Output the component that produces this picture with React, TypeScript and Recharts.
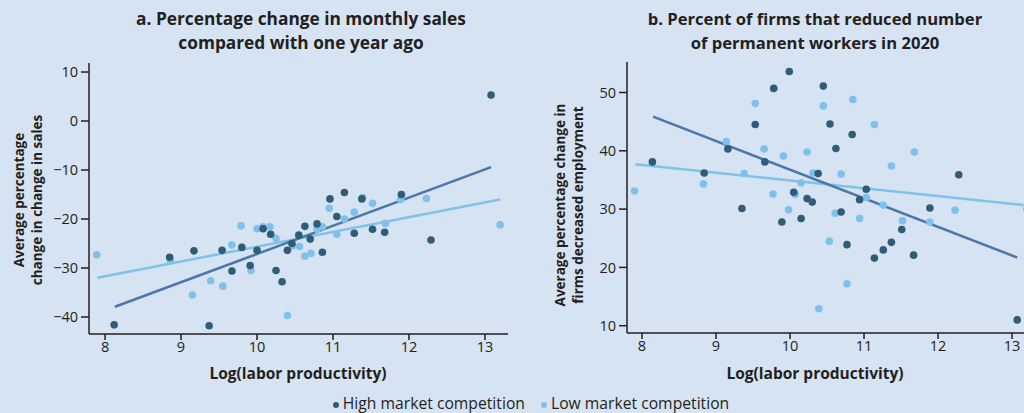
import React from 'react';
import { ScatterChart, Scatter, XAxis, YAxis, ReferenceLine } from 'recharts';

// Panel a: percentage change in monthly sales
const salesHigh = [
  [8.12, -41.6], [8.85, -27.8], [9.17, -26.5], [9.37, -41.8], [9.54, -26.4], [9.67, -30.6],
  [9.8, -25.8], [9.91, -29.5], [10.0, -26.4], [10.08, -22.0], [10.18, -23.1], [10.25, -30.5],
  [10.33, -32.8], [10.4, -26.4], [10.46, -25.0], [10.55, -23.3], [10.63, -21.5], [10.7, -24.1],
  [10.79, -21.0], [10.86, -26.8], [10.96, -15.9], [11.05, -19.5], [11.15, -14.6], [11.28, -22.9],
  [11.38, -15.9], [11.52, -22.1], [11.68, -22.7], [11.9, -15.0], [12.29, -24.3], [13.08, 5.3],
];
const salesLow = [
  [7.89, -27.3], [8.86, -28.5], [9.15, -35.5], [9.39, -32.6], [9.55, -33.7], [9.67, -25.3],
  [9.79, -21.4], [9.92, -30.5], [10.0, -22.0], [10.08, -21.6], [10.17, -21.6], [10.25, -24.0],
  [10.4, -39.7], [10.47, -25.5], [10.56, -25.6], [10.63, -27.6], [10.71, -27.0], [10.79, -22.1],
  [10.86, -21.6], [10.95, -17.8], [11.05, -23.1], [11.15, -20.0], [11.28, -18.6], [11.39, -15.6],
  [11.52, -16.8], [11.69, -20.9], [11.89, -16.0], [12.23, -15.8], [13.2, -21.2],
];
const salesTrendHigh = [[8.13, -37.9], [13.08, -9.4]];
const salesTrendLow = [[7.9, -32.0], [13.2, -16.0]];
const salesYTicks = [-40, -30, -20, -10, 0, 10];

// Panel b: percent of firms that reduced permanent workers
const firmsHigh = [
  [8.14, 38.1], [8.84, 36.2], [9.16, 40.3], [9.35, 30.1], [9.53, 44.5], [9.66, 38.1],
  [9.78, 50.7], [9.89, 27.8], [9.99, 53.6], [10.05, 32.9], [10.15, 28.4], [10.23, 31.8],
  [10.3, 31.2], [10.38, 36.1], [10.45, 51.1], [10.54, 44.6], [10.62, 40.4], [10.69, 29.5],
  [10.77, 23.9], [10.84, 42.8], [10.94, 31.6], [11.03, 33.4], [11.14, 21.6], [11.26, 23.0],
  [11.37, 24.3], [11.51, 26.5], [11.67, 22.1], [11.89, 30.2], [12.28, 35.9], [13.07, 11.0],
];
const firmsLow = [
  [7.9, 33.1], [8.83, 34.3], [9.14, 41.6], [9.38, 36.1], [9.53, 48.1], [9.65, 40.3],
  [9.77, 32.6], [9.91, 39.1], [9.98, 29.9], [10.07, 32.5], [10.15, 34.5], [10.23, 39.8],
  [10.31, 36.2], [10.39, 12.9], [10.45, 47.7], [10.53, 24.5], [10.61, 29.3], [10.69, 36.0],
  [10.77, 17.2], [10.85, 48.8], [10.94, 28.4], [11.03, 32.0], [11.14, 44.5], [11.26, 30.7],
  [11.37, 37.4], [11.52, 28.0], [11.68, 39.8], [11.89, 27.8], [12.23, 29.8], [13.2, 30.0],
];
const firmsTrendHigh = [[8.15, 45.85], [13.07, 21.7]];
const firmsTrendLow = [[7.91, 37.7], [13.16, 30.7]];
const firmsYTicks = [10, 20, 30, 40, 50];

const xTicks = [8, 9, 10, 11, 12, 13];

const seriesNames = ['High market competition', 'Low market competition'];
const titleA = ['a. Percentage change in monthly sales', 'compared with one year ago'];
const titleB = ['b. Percent of firms that reduced number', 'of permanent workers in 2020'];
const yLabelA = ['Average percentage', 'change in change in sales'];
const yLabelB = ['Average percentage change in', 'firms decreased employment'];
const xLabel = 'Log(labor productivity)';

const BG = '#d6e3f2';
const INK = '#231f20';
const DARK_DOT = '#2f5d78';
const LIGHT_DOT = '#7fc1ea';
const DARK_LINE = '#4a77a8';
const LIGHT_LINE = '#80c2ea';
const FONT = '"Open Sans", "Noto Sans", sans-serif';

const toPts = (arr: number[][]) => arr.map(([x, y]) => ({ x, y }));
const fmt = (v: number) => String(v).replace('-', '\u2212');

const dot = (color: string) => (props: any) => (
  <circle cx={props.cx} cy={props.cy} r={3.8} fill={color} />
);

type PanelProps = {
  high: number[][];
  low: number[][];
  tHigh: number[][];
  tLow: number[][];
  xDomain: [number, number];
  yDomain: [number, number];
  yTicks: number[];
  margin: { top: number; right: number; bottom: number; left: number };
  width: number;
};

function Panel({ high, low, tHigh, tLow, xDomain, yDomain, yTicks, margin, width }: PanelProps) {
  const tickStyle = { fontSize: 14.5, fill: INK, fontFamily: FONT };
  return (
    <ScatterChart width={width} height={413} margin={margin}>
      <XAxis
        type="number"
        dataKey="x"
        domain={xDomain}
        ticks={xTicks}
        allowDataOverflow
        height={30}
        tick={tickStyle}
        tickSize={6}
        tickMargin={2}
        axisLine={{ stroke: INK, strokeWidth: 1.5 }}
        tickLine={{ stroke: INK, strokeWidth: 1.5 }}
      />
      <YAxis
        type="number"
        dataKey="y"
        domain={yDomain}
        ticks={yTicks}
        tickFormatter={fmt}
        allowDataOverflow
        width={40}
        tick={tickStyle}
        tickSize={8}
        tickMargin={3}
        axisLine={{ stroke: INK, strokeWidth: 1.5 }}
        tickLine={{ stroke: INK, strokeWidth: 1.5 }}
      />
      <Scatter data={toPts(low)} fill={LIGHT_DOT} shape={dot(LIGHT_DOT)} isAnimationActive={false} />
      <Scatter data={toPts(high)} fill={DARK_DOT} shape={dot(DARK_DOT)} isAnimationActive={false} />
      <ReferenceLine
        segment={toPts(tLow) as any}
        stroke={LIGHT_LINE}
        strokeWidth={2.5}
        ifOverflow="hidden"
      />
      <ReferenceLine
        segment={toPts(tHigh) as any}
        stroke={DARK_LINE}
        strokeWidth={2.5}
        ifOverflow="hidden"
      />
    </ScatterChart>
  );
}

const abs = (l: number, t: number, extra: React.CSSProperties = {}): React.CSSProperties => ({
  position: 'absolute',
  left: l,
  top: t,
  ...extra,
});

export default function App() {
  const titleStyle: React.CSSProperties = {
    fontFamily: FONT,
    fontWeight: 700,
    color: INK,
    textAlign: 'center',
    lineHeight: '24px',
    whiteSpace: 'nowrap',
  };
  const yLabStyle: React.CSSProperties = {
    fontFamily: FONT,
    fontWeight: 700,
    fontSize: 13.5,
    color: INK,
    textAlign: 'center',
    lineHeight: '18px',
    whiteSpace: 'nowrap',
    width: 300,
    transform: 'rotate(-90deg)',
    transformOrigin: 'center center',
  };
  const xLabStyle: React.CSSProperties = {
    fontFamily: FONT,
    fontWeight: 700,
    fontSize: 15.5,
    color: INK,
    textAlign: 'center',
    whiteSpace: 'nowrap',
    width: 300,
  };
  return (
    <div
      style={{
        position: 'fixed',
        left: 0,
        top: 0,
        width: 1024,
        height: 413,
        overflow: 'hidden',
        background: BG,
      }}
    >
      <div style={abs(0, 0)}>
        <Panel
          high={salesHigh}
          low={salesLow}
          tHigh={salesTrendHigh}
          tLow={salesTrendLow}
          xDomain={[7.789, 13.303]}
          yDomain={[-43.47, 11.84]}
          yTicks={salesYTicks}
          width={520}
          margin={{ top: 63, right: 12, bottom: 49, left: 49 }}
        />
      </div>
      <div style={abs(520, 0)}>
        <Panel
          high={firmsHigh}
          low={firmsLow}
          tHigh={firmsTrendHigh}
          tLow={firmsTrendLow}
          xDomain={[7.797, 13.378]}
          yDomain={[8.75, 55.23]}
          yTicks={firmsYTicks}
          width={520}
          margin={{ top: 62, right: 0, bottom: 50, left: 67 }}
        />
      </div>

      <div style={abs(101, 7, { ...titleStyle, fontSize: 17.3, width: 400 })}>
        {titleA.map((t) => (
          <div key={t}>{t}</div>
        ))}
      </div>
      <div style={abs(615, 7, { ...titleStyle, fontSize: 16.6, width: 400 })}>
        {titleB.map((t) => (
          <div key={t}>{t}</div>
        ))}
      </div>

      <div style={abs(28 - 150, 200 - 18, yLabStyle)}>
        {yLabelA.map((t) => (
          <div key={t}>{t}</div>
        ))}
      </div>
      <div style={abs(569 - 150, 205 - 18, yLabStyle)}>
        {yLabelB.map((t) => (
          <div key={t}>{t}</div>
        ))}
      </div>

      <div style={abs(298 - 150, 362, xLabStyle)}>{xLabel}</div>
      <div style={abs(815 - 150, 362, xLabStyle)}>{xLabel}</div>

      <div
        style={abs(0, 395, {
          width: 1062,
          textAlign: 'center',
          fontFamily: FONT,
          fontSize: 15.7,
          lineHeight: '17px',
          color: INK,
          whiteSpace: 'nowrap',
        })}
      >
        <span style={{ display: 'inline-block', width: 6, height: 6, borderRadius: 3, background: DARK_DOT, marginRight: 4, verticalAlign: 'middle' }} />
        {seriesNames[0]}
        <span style={{ display: 'inline-block', width: 6, height: 6, borderRadius: 3, background: LIGHT_DOT, marginLeft: 16, marginRight: 4, verticalAlign: 'middle' }} />
        {seriesNames[1]}
      </div>
    </div>
  );
}
